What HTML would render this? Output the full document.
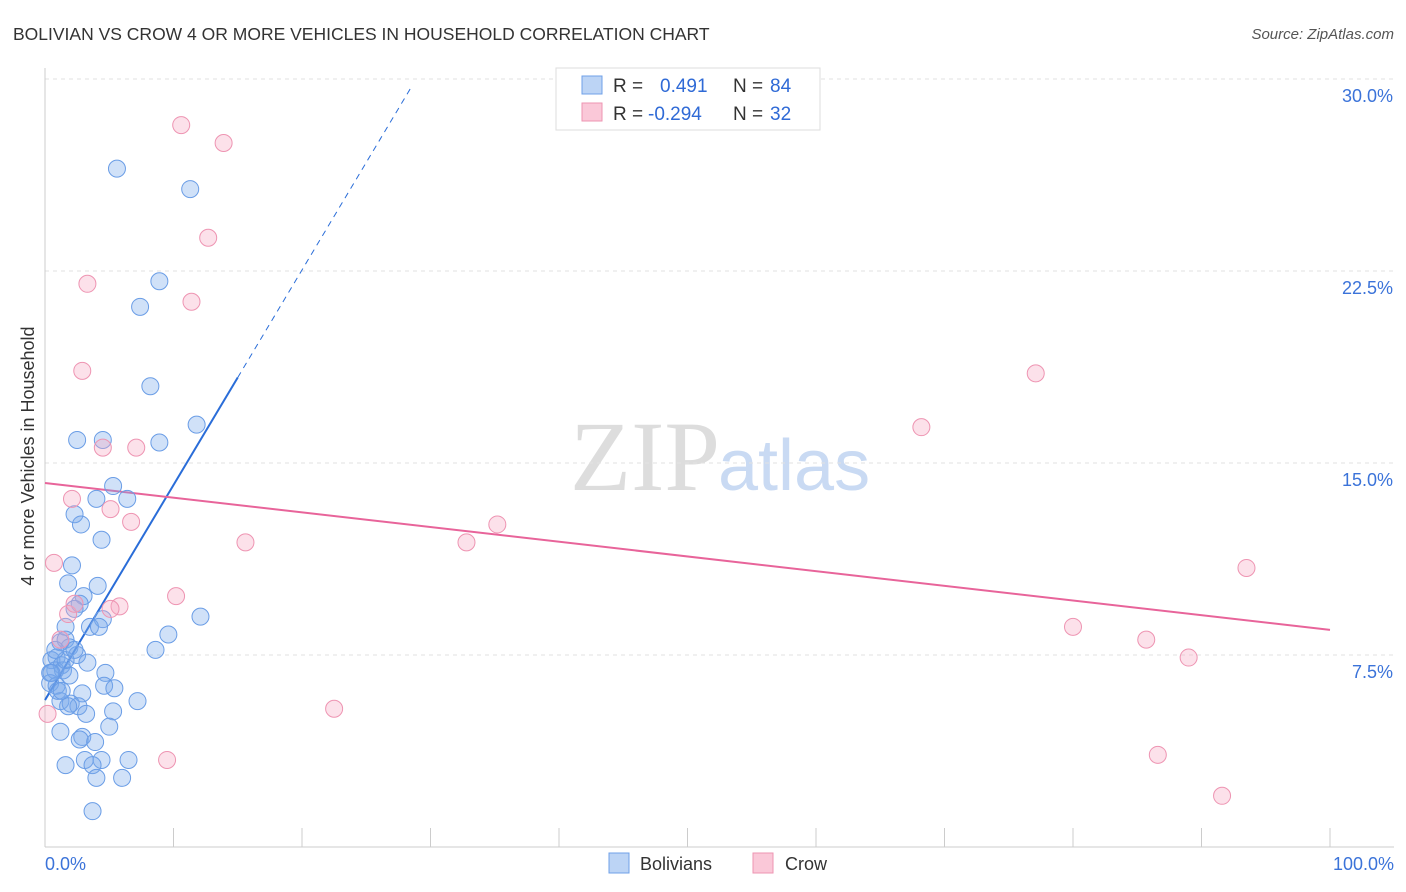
<!DOCTYPE html>
<html><head><meta charset="utf-8"><style>
body{margin:0;background:#fff;font-family:"Liberation Sans",sans-serif;}
svg{display:block}
</style></head><body>
<svg id="chart" width="1406" height="892">
<text x="13" y="40" font-size="17.5" fill="#333">BOLIVIAN VS CROW 4 OR MORE VEHICLES IN HOUSEHOLD CORRELATION CHART</text>
<text x="1394" y="39" font-size="15" fill="#555" font-style="italic" text-anchor="end">Source: ZipAtlas.com</text>
<text x="720" y="490" font-size="100" fill="#ddd" text-anchor="end" font-family="Liberation Serif,serif">ZIP</text>
<text x="718" y="490" font-size="72" fill="#c9daf3">atlas</text>
<text transform="translate(34,456) rotate(-90)" font-size="18" fill="#333" text-anchor="middle">4 or more Vehicles in Household</text>
<g id="grid"></g><g id="axes"></g><g id="lines"></g><g id="pts"></g>
<g>
<rect x="556" y="68" width="264" height="62" fill="#fff" stroke="#ddd"/>
<rect x="582" y="76" width="20" height="18" fill="#bcd4f5" stroke="#6fa0e8"/>
<rect x="582" y="103" width="20" height="18" fill="#fac8d8" stroke="#ee94b2"/>
<text x="613" y="92" font-size="19" fill="#333">R = <tspan fill="#2f6ad6" x="660">0.491</tspan><tspan fill="#333" x="733">N = </tspan><tspan fill="#2f6ad6" x="770">84</tspan></text>
<text x="613" y="120" font-size="19" fill="#333">R = <tspan fill="#2f6ad6" x="648">-0.294</tspan><tspan fill="#333" x="733">N = </tspan><tspan fill="#2f6ad6" x="770">32</tspan></text>
</g>
<g>
<rect x="609" y="853" width="20" height="20" fill="#bcd4f5" stroke="#6fa0e8"/>
<text x="640" y="870" font-size="18" fill="#333">Bolivians</text>
<rect x="753" y="853" width="20" height="20" fill="#fac8d8" stroke="#ee94b2"/>
<text x="785" y="870" font-size="18" fill="#333">Crow</text>
</g>
</svg>
<script>
const blueX=[5.6,11.3,8.9,7.4,8.2,11.8,2.5,4.5,8.9,5.3,4.0,6.4,2.3,2.8,4.4,2.1,1.8,4.1,3.0,2.7,2.3,4.5,3.5,4.2,12.1,9.6,8.6,1.6,1.2,1.6,1.9,0.9,2.5,0.5,1.3,3.3,0.8,1.4,0.4,1.9,4.7,0.4,0.9,4.6,5.4,2.9,7.2,1.2,2.0,2.6,1.8,3.2,5.3,5.0,1.2,2.9,2.7,3.9,3.1,4.4,6.5,1.6,3.7,4.0,6.0,3.7,0.5,1.0,1.6,2.3,0.8,1.3];
const blueY=[26.5,25.7,22.1,21.1,18.0,16.5,15.9,15.9,15.8,14.1,13.6,13.6,13.0,12.6,12.0,11.0,10.3,10.2,9.8,9.5,9.3,8.9,8.6,8.6,9.0,8.3,7.7,8.6,8.0,8.1,7.8,7.4,7.5,7.3,7.1,7.2,6.9,6.9,6.8,6.7,6.8,6.4,6.3,6.3,6.2,6.0,5.7,5.7,5.6,5.5,5.5,5.2,5.3,4.7,4.5,4.3,4.2,4.1,3.4,3.4,3.4,3.2,3.2,2.7,2.7,1.4,6.8,6.1,7.3,7.7,7.7,6.1];
const pinkX=[10.6,13.9,12.7,3.3,11.4,2.9,4.5,7.1,2.1,5.1,6.7,15.6,0.7,1.8,5.8,5.1,10.2,1.2,0.2,22.5,9.5,32.8,35.2,68.2,77.1,80.0,85.7,89.0,86.6,91.6,93.5,2.3];
const pinkY=[28.2,27.5,23.8,22.0,21.3,18.6,15.6,15.6,13.6,13.2,12.7,11.9,11.1,9.1,9.4,9.3,9.8,8.1,5.2,5.4,3.4,11.9,12.6,16.4,18.5,8.6,8.1,7.4,3.6,2.0,10.9,9.5];
const yTicks=[7.5,15.0,22.5,30.0];
const blueFit=[5.74,0.84];   // intercept, slope
const pinkFit=[14.22,-0.0574];
const NS="http://www.w3.org/2000/svg";
const sx=v=>45+v*12.85, sy=v=>847-v*25.6;
function mk(t,a,p){const e=document.createElementNS(NS,t);for(const k in a)e.setAttribute(k,a[k]);document.getElementById(p).appendChild(e);return e;}
yTicks.forEach(t=>{
 const g=mk('line',{x1:45,x2:1394,y1:sy(t),y2:sy(t),stroke:'#e2e2e2','stroke-dasharray':'4,4'},'grid');
 
 
 const l=mk('text',{x:1393,y:sy(t)+23,'font-size':18,fill:'#3b73d9','text-anchor':'end'},'grid');
 l.textContent=t.toFixed(1)+'%';
 
 
});
const ax=mk('line',{x1:45,x2:45,y1:68,y2:847,stroke:'#ccc'},'axes');


const bx=mk('line',{x1:45,x2:1394,y1:847,y2:847,stroke:'#ccc'},'axes');


for(let i=0;i<=10;i++){const t=mk('line',{x1:sx(i*10),x2:sx(i*10),y1:828,y2:847,stroke:'#ccc'},'axes');
 
 }
[[0,'0.0%','start',45],[100,'100.0%','end',1394]].forEach(d=>{const t=mk('text',{x:d[3],y:870,'font-size':18,fill:'#3b73d9','text-anchor':d[2]},'axes');t.textContent=d[1];
 
 });
const f=(c,x)=>c[0]+c[1]*x;
const b1=mk('line',{x1:sx(0),y1:sy(f(blueFit,0)),x2:sx(15),y2:sy(f(blueFit,15)),stroke:'#2a6dd8','stroke-width':2},'lines');


const b2=mk('line',{x1:sx(15),y1:sy(f(blueFit,15)),x2:sx(28.6),y2:sy(f(blueFit,28.6)),stroke:'#2a6dd8','stroke-width':1,'stroke-dasharray':'6,5'},'lines');


const p1=mk('line',{x1:sx(0),y1:sy(f(pinkFit,0)),x2:sx(100),y2:sy(f(pinkFit,100)),stroke:'#e8649a','stroke-width':2},'lines');


blueX.forEach((x,i)=>{const c=mk('circle',{cx:sx(x),cy:sy(blueY[i]),r:8.5,fill:'rgba(120,168,236,0.35)',stroke:'#6a9de6','stroke-width':1},'pts');
 
 });
pinkX.forEach((x,i)=>{const c=mk('circle',{cx:sx(x),cy:sy(pinkY[i]),r:8.5,fill:'rgba(246,170,196,0.35)',stroke:'#ee94b2','stroke-width':1},'pts');
 
 });
</script>
</body></html>
